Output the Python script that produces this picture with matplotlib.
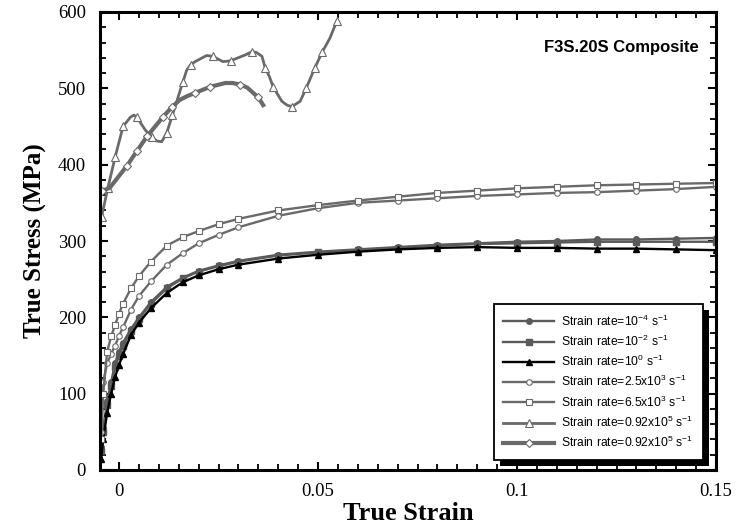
import matplotlib
matplotlib.use("Agg")
import matplotlib.pyplot as plt
from matplotlib.patches import Rectangle
from matplotlib.transforms import IdentityTransform
from matplotlib.ticker import MultipleLocator, FuncFormatter

plt.rcParams['mathtext.fontset'] = 'custom'
plt.rcParams['mathtext.rm'] = 'Liberation Sans'
plt.rcParams['mathtext.it'] = 'Liberation Sans:italic'

# --- data (true strain, true stress in MPa) ---
strain_low = [-0.0045, -0.004, -0.003, -0.002, -0.001, 0.0, 0.001, 0.003, 0.005,
              0.008, 0.012, 0.016, 0.02, 0.025, 0.03, 0.04, 0.05, 0.06, 0.07,
              0.08, 0.09, 0.1, 0.11, 0.12, 0.13, 0.14, 0.15]
stress_1e_4 = [30, 55, 90, 115, 140, 155, 167, 185, 200, 220, 240, 252, 261, 268,
               274, 282, 286, 289, 292, 295, 297, 299, 300, 302, 302, 303, 304]
stress_1e_2 = [25, 50, 85, 110, 135, 150, 163, 182, 198, 218, 238, 251, 260, 267,
               273, 281, 285, 288, 291, 294, 296, 297, 298, 299, 299, 299, 299]
stress_1e0 = [15, 40, 75, 100, 122, 138, 152, 177, 193, 212, 232, 246, 255, 263,
              269, 277, 282, 286, 289, 291, 292, 291, 291, 290, 290, 289, 288]
stress_2p5e3 = [50, 115, 140, 152, 163, 176, 187, 210, 228, 247, 269, 284, 297, 308,
                318, 333, 343, 350, 353, 356, 359, 361, 363, 364, 366, 368, 371]
stress_6p5e3 = [40, 100, 155, 175, 190, 205, 218, 238, 254, 273, 294, 305, 313, 322,
                329, 340, 347, 353, 358, 363, 366, 369, 371, 373, 374, 375, 376]

strain_tri = [-0.0044, -0.0028, -0.001, 0.001, 0.0028, 0.0037, 0.0045, 0.0065,
              0.0082, 0.0095, 0.0107, 0.012, 0.0134, 0.0148, 0.016, 0.017, 0.018,
              0.0191, 0.022, 0.0235, 0.0261, 0.028, 0.0299, 0.0318, 0.0334,
              0.0345, 0.0359, 0.0367, 0.0378, 0.0387, 0.0409, 0.0422, 0.0434,
              0.0455, 0.047, 0.0492, 0.051, 0.053, 0.0547]
stress_tri = [332, 370, 410, 450, 462, 465, 462, 446, 436, 431, 430, 442, 465, 488,
              508, 524, 531, 535, 543, 542, 535, 536, 540, 544, 548, 547, 542, 527,
              515, 502, 483, 478, 476, 483, 500, 527, 547, 566, 588]

strain_dia = [-0.0044, -0.0023, 0.0019, 0.0045, 0.007, 0.0111, 0.0132, 0.0153,
              0.0172, 0.0191, 0.0229, 0.0267, 0.0285, 0.0304, 0.0322, 0.0337,
              0.035, 0.0362]
stress_dia = [365, 370, 398, 418, 437, 463, 475, 485, 490, 494, 502, 507, 507, 505,
              501, 494, 488, 478]

labels = [r'Strain rate=10$^{-4}$ s$^{-1}$',
          r'Strain rate=10$^{-2}$ s$^{-1}$',
          r'Strain rate=10$^{0}$ s$^{-1}$',
          r'Strain rate=2.5x10$^{3}$ s$^{-1}$',
          r'Strain rate=6.5x10$^{3}$ s$^{-1}$',
          r'Strain rate=0.92x10$^{5}$ s$^{-1}$',
          r'Strain rate=0.92x10$^{5}$ s$^{-1}$']

fig = plt.figure(figsize=(7.43, 5.28), dpi=100)
ax = fig.add_axes([100 / 743, 58 / 528, 616 / 743, 458 / 528])

gray = '#5a5a5a'
lgray = '#6a6a6a'
ax.plot(strain_low, stress_1e_4, color=gray, lw=1.7, marker='o', ms=4,
        mfc=gray, mec=gray, label=labels[0])
ax.plot(strain_low, stress_1e_2, color=gray, lw=1.7, marker='s', ms=4,
        mfc=gray, mec=gray, label=labels[1])
ax.plot(strain_low, stress_1e0, color='black', lw=1.7, marker='^', ms=4,
        mfc='black', mec='black', label=labels[2])
ax.plot(strain_low, stress_2p5e3, color=lgray, lw=1.7, marker='o', ms=4,
        mfc='white', mec=lgray, mew=0.8, label=labels[3])
ax.plot(strain_low, stress_6p5e3, color=lgray, lw=1.7, marker='s', ms=5,
        mfc='white', mec=lgray, mew=0.8, label=labels[4])
ax.plot(strain_tri, stress_tri, color=lgray, lw=2.0, marker='^', ms=6,
        mfc='white', mec=lgray, mew=0.8, markevery=0.03, label=labels[5])
ax.plot(strain_dia, stress_dia, color=lgray, lw=3.0, marker='D', ms=4.5,
        mfc='white', mec=lgray, mew=0.8, markevery=0.03, label=labels[6])

ax.set_xlim(-0.0048, 0.15)
ax.set_ylim(0, 600)
ax.set_xticks([0, 0.05, 0.1, 0.15])
ax.xaxis.set_major_formatter(FuncFormatter(lambda v, p: '%g' % v))
ax.xaxis.set_minor_locator(MultipleLocator(0.005))
ax.yaxis.set_major_locator(MultipleLocator(100))
ax.yaxis.set_minor_locator(MultipleLocator(20))
ax.tick_params(which='both', direction='in', top=True, right=True,
               labelfontfamily='Liberation Serif', labelsize=13.5)
ax.tick_params(which='major', length=6, width=1.5)
ax.tick_params(which='minor', length=4, width=1.3)
ax.tick_params(axis='x', pad=9)
ax.tick_params(axis='y', pad=10)
for sp in ax.spines.values():
    sp.set_linewidth(2.2)

ax.set_xlabel('True Strain', family='Liberation Serif', fontweight='bold',
              fontsize=19, labelpad=2)
ax.set_ylabel('True Stress (MPa)', family='Liberation Serif', fontweight='bold',
              fontsize=18, labelpad=8)

ax.text(0.846, 0.923, 'F3S.20S Composite', transform=ax.transAxes,
        ha='center', va='center', family='Liberation Sans', fontweight='bold',
        fontsize=12)

leg = ax.legend(loc='lower right', bbox_to_anchor=(0.979, 0.022),
                prop={'family': 'Liberation Sans', 'size': 8.7},
                handlelength=4.2, labelspacing=0.42, borderpad=0.8,
                handletextpad=0.6, fancybox=False, edgecolor='black',
                framealpha=1, borderaxespad=0)
leg.get_frame().set_linewidth(1.3)
leg.set_zorder(5)

# offset black shadow behind the legend box
fig.canvas.draw()
bb = leg.get_window_extent()
ax.add_patch(Rectangle((bb.x0 + 6, bb.y0 - 6), bb.width, bb.height,
                       transform=IdentityTransform(), facecolor='black',
                       edgecolor='none', zorder=4.9, clip_on=False))

fig.savefig('out.png', dpi=100)
